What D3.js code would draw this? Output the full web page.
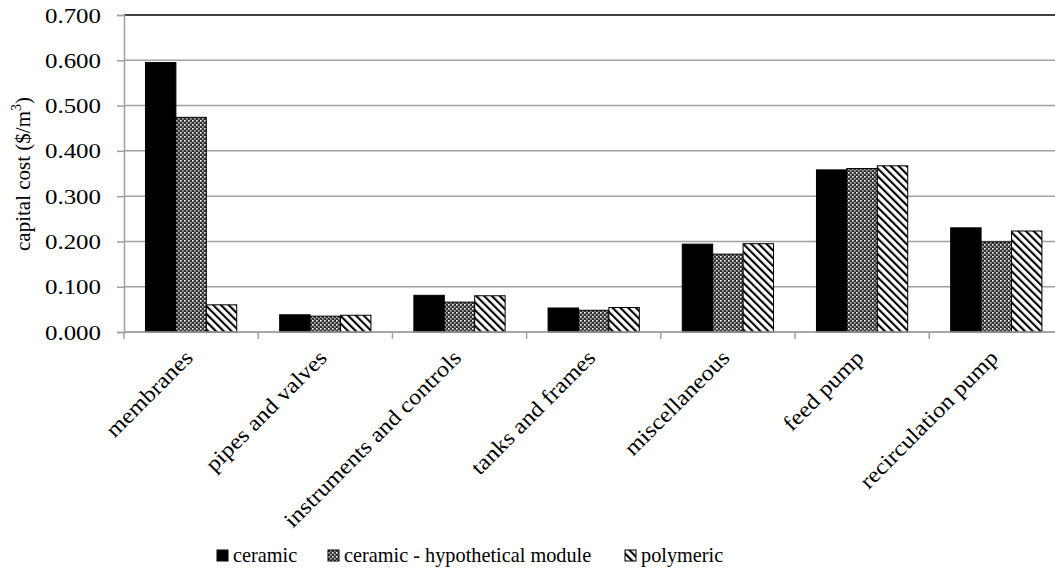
<!DOCTYPE html>
<html><head><meta charset="utf-8">
<script src="https://cdn.jsdelivr.net/npm/d3@7"></script>
<style>body{margin:0;background:#fff}svg{display:block}</style>
</head><body>
<svg id="c" width="1055" height="575"></svg>
<script>
const categories = ["membranes","pipes and valves","instruments and controls","tanks and frames","miscellaneous","feed pump","recirculation pump"];
const seriesNames = ["ceramic","ceramic - hypothetical module","polymeric"];
const ceramic = [0.595,0.038,0.081,0.053,0.194,0.358,0.230];
const hypothetical = [0.474,0.035,0.066,0.048,0.172,0.361,0.199];
const polymeric = [0.060,0.037,0.080,0.054,0.195,0.367,0.223];
const yTicks = [0,0.1,0.2,0.3,0.4,0.5,0.6,0.7];

const FONT = '"Liberation Serif","Times New Roman",serif';
const svg = d3.select("#c");
const defs = svg.append("defs");
const p1 = defs.append("pattern").attr("id","dots").attr("patternUnits","userSpaceOnUse").attr("width",4).attr("height",4);
p1.append("rect").attr("width",4).attr("height",4).attr("fill","#333");
p1.append("rect").attr("x",0).attr("y",0).attr("width",1.6).attr("height",1.6).attr("fill","#fff");
p1.append("rect").attr("x",2).attr("y",2).attr("width",1.6).attr("height",1.6).attr("fill","#bbb");
const p2 = defs.append("pattern").attr("id","diag").attr("patternUnits","userSpaceOnUse").attr("width",5.5).attr("height",5.5).attr("patternTransform","rotate(-45)");
p2.append("rect").attr("width",5.5).attr("height",5.5).attr("fill","#fff");
p2.append("rect").attr("x",0).attr("y",0).attr("width",2.1).attr("height",5.5).attr("fill","#000");
const fills = ["#000","url(#dots)","url(#diag)"];

const mLeft=124, mTop=15, mBottom=332;
const step = 134.2;
const mRight = mLeft + step*categories.length;
const x = d3.scaleBand().domain(categories).range([mLeft,mRight]).paddingInner(0.32).paddingOuter(0.16);
const xs = d3.scaleBand().domain(seriesNames).range([0,x.bandwidth()]);
const y = d3.scaleLinear().domain([0,0.7]).range([mBottom,mTop]);

// gridlines
svg.append("g").selectAll("line").data(yTicks).join("line")
  .attr("x1",mLeft).attr("x2",1055).attr("y1",d=>y(d)).attr("y2",d=>y(d))
  .attr("stroke",d=>d===0.7?"#000":"#a0a0a0").attr("stroke-width",1.5);

// y axis
const ya = svg.append("g").attr("transform",`translate(${mLeft},0)`)
  .call(d3.axisLeft(y).tickValues(yTicks).tickFormat(d3.format(".3f")).tickSize(7).tickPadding(16));
ya.select(".domain").attr("stroke","#a0a0a0").attr("stroke-width",1.5);
ya.selectAll(".tick line").attr("stroke","#a0a0a0").attr("stroke-width",1.5);
ya.selectAll("text").style("font-family",FONT).style("font-size","21px").attr("fill","#000")
  .attr("textLength",56).attr("lengthAdjust","spacingAndGlyphs").attr("dy","0.34em");

// bars
const data = [ceramic,hypothetical,polymeric];
data.forEach((vals,si)=>{
  svg.append("g").selectAll("rect").data(vals).join("rect")
    .attr("x",(d,i)=>x(categories[i])+xs(seriesNames[si]))
    .attr("width",xs.bandwidth())
    .attr("y",d=>y(d)).attr("height",d=>mBottom-y(d))
    .attr("fill",fills[si]).attr("stroke","#000").attr("stroke-width",1);
});

// x axis
const xa = svg.append("g").attr("transform",`translate(0,${mBottom})`);
xa.append("line").attr("x1",mLeft).attr("x2",1055).attr("stroke","#a0a0a0").attr("stroke-width",1.5);
const bounds = d3.range(categories.length+1).map(i=>mLeft+i*step);
xa.selectAll(".tk").data(bounds).join("line").attr("class","tk")
  .attr("x1",d=>d).attr("x2",d=>d).attr("y1",0).attr("y2",7).attr("stroke","#a0a0a0").attr("stroke-width",1.5);
xa.selectAll(".lbl").data(categories).join("text").attr("class","lbl")
  .attr("transform",d=>`translate(${x(d)+x.bandwidth()/2+3},${27}) rotate(-45)`)
  .attr("text-anchor","end").style("font-family",FONT).style("font-size","22px").text(d=>d)
  .each(function(){ const w=this.getComputedTextLength(); d3.select(this).attr("textLength",w*1.11).attr("lengthAdjust","spacingAndGlyphs"); });

// y title
const yt = svg.append("text").attr("transform","translate(30,174) rotate(-90)")
  .attr("text-anchor","middle").style("font-family",FONT).style("font-size","21px");
yt.append("tspan").text("capital cost ($/m");
yt.append("tspan").style("font-size","14px").attr("dy",-9).text("3");
yt.append("tspan").attr("dy",9).text(")");

// legend
const legX = [217,328,625];
const lg = svg.append("g");
seriesNames.forEach((s,i)=>{
  lg.append("rect").attr("x",legX[i]).attr("y",550).attr("width",11).attr("height",11)
    .attr("fill",fills[i]).attr("stroke","#000").attr("stroke-width",1);
  lg.append("text").attr("x",legX[i]+16).attr("y",562).style("font-family",FONT).style("font-size","20.3px").text(s);
});
</script>
</body></html>
